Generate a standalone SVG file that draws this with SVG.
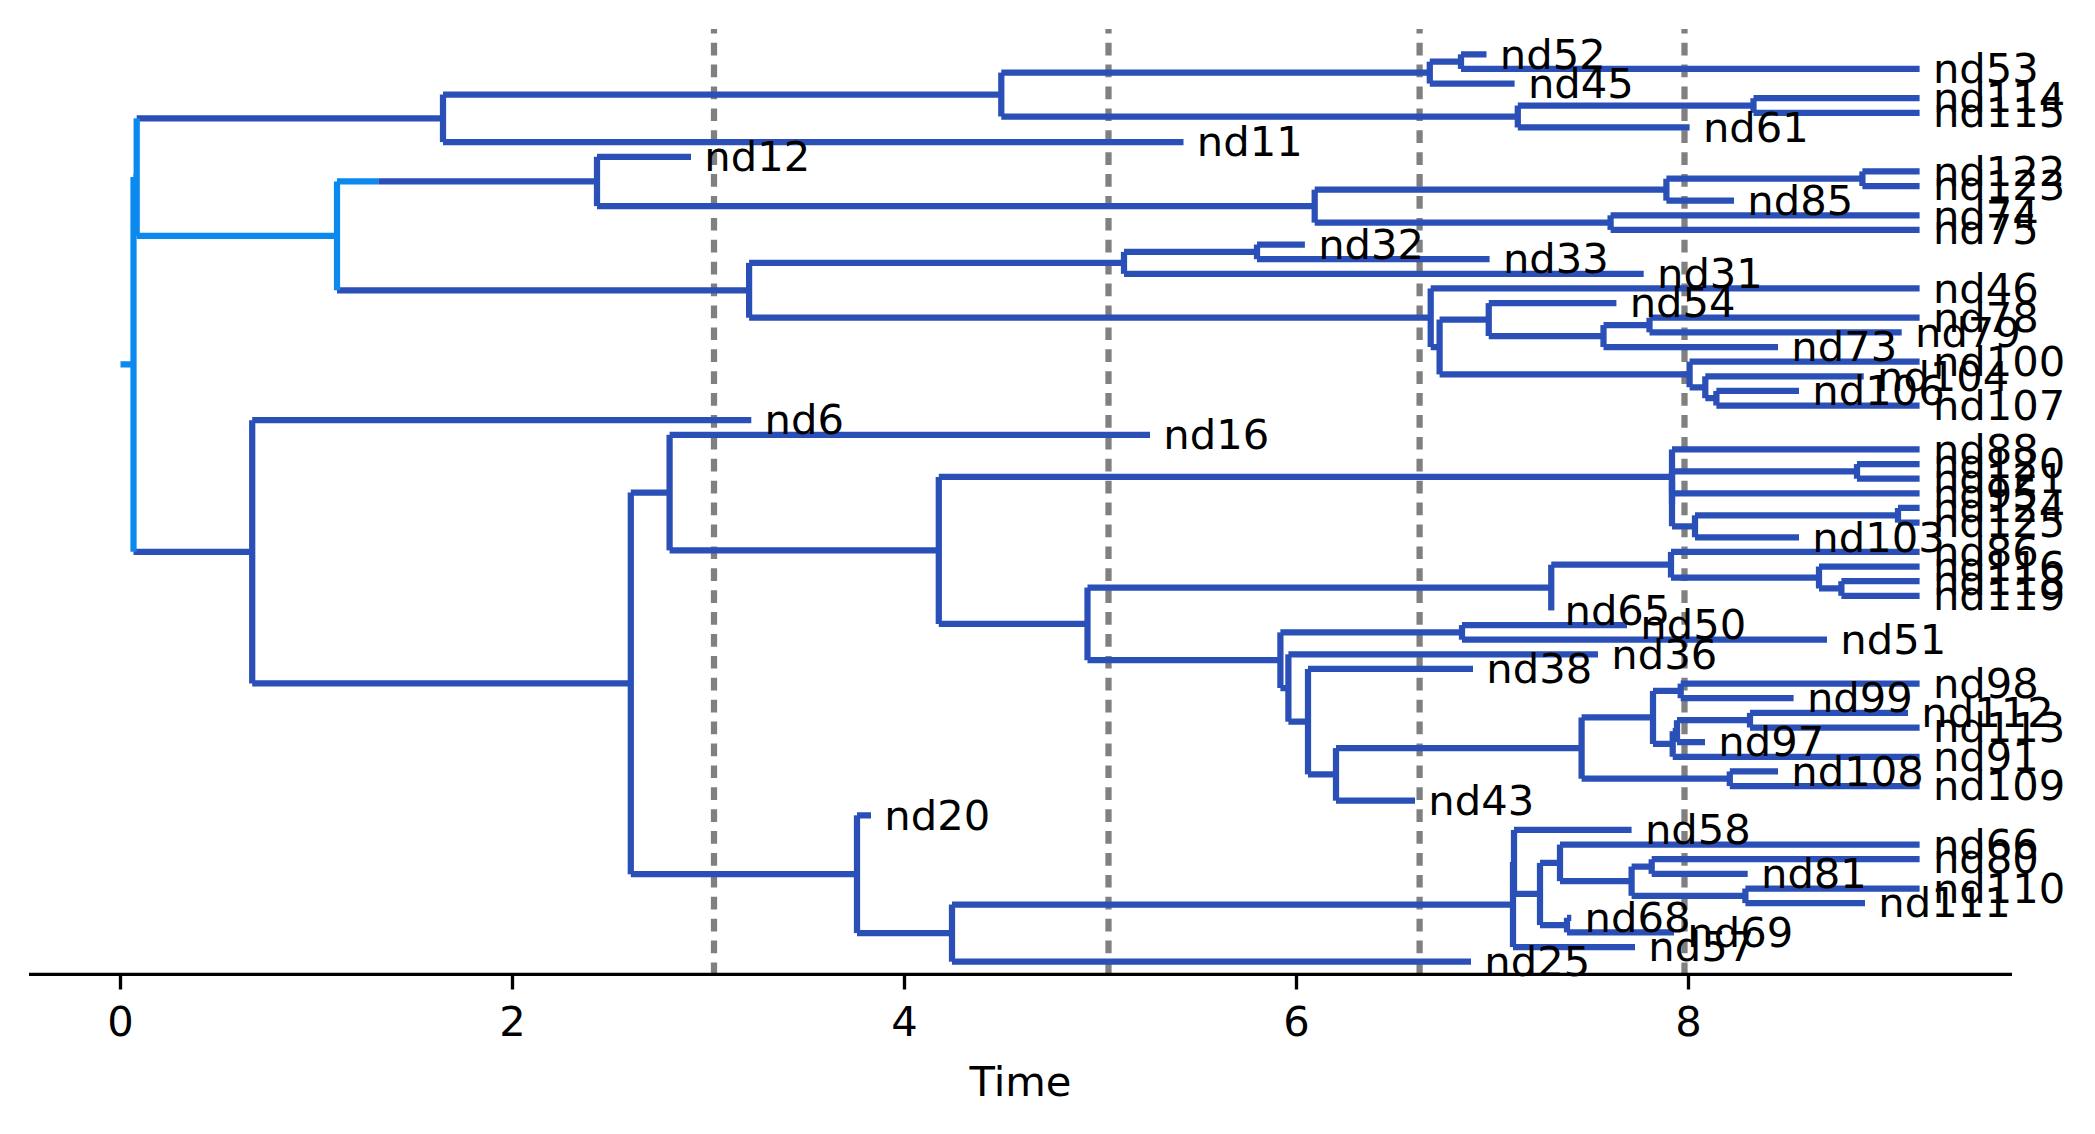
<svg xmlns="http://www.w3.org/2000/svg" width="2095" height="1134" viewBox="0 0 2095 1134">
<style>
.d{stroke:#2A50B8;stroke-width:6.25;fill:none;stroke-linecap:butt}
.l{stroke:#0B89EE;stroke-width:6.25;fill:none;stroke-linecap:butt}
.g{stroke:#808080;stroke-width:6.25;fill:none;stroke-dasharray:12.7 9.2;stroke-dashoffset:8.2}
.t{font-family:"DejaVu Sans",sans-serif;font-size:41.67px;fill:#000}
.k{stroke:#000;stroke-width:3.33;fill:none}
.m{text-anchor:middle}
</style>
<rect width="2095" height="1134" fill="#fff"/>
<g id="guides">
<path class="g" d="M714 29V974.3"/>
<path class="g" d="M1108.5 29V974.3"/>
<path class="g" d="M1419.6 29V974.3"/>
<path class="g" d="M1684.5 29V974.3"/>
</g>
<g id="axis">
<path class="k" d="M29 974.3H2012"/>
<path class="k" d="M120.5 974.3V989.6M512.5 974.3V989.6M904.5 974.3V989.6M1296.5 974.3V989.6M1688.5 974.3V989.6"/>
<text class="t m" x="120.5" y="1036">0</text>
<text class="t m" x="512.5" y="1036">2</text>
<text class="t m" x="904.5" y="1036">4</text>
<text class="t m" x="1296.5" y="1036">6</text>
<text class="t m" x="1688.5" y="1036">8</text>
<text class="t m" x="1020.5" y="1095.5">Time</text>
</g>
<g id="connectors">
<path class="l" d="M120.5 364.45H133.5M133.5 177.1H136.7M136.7 235.87H337M337 181.45H378.3"/>
<path class="d" d="M378.3 181.45H597M133.5 551.79H252.2M136.7 118.33H443
M443 94.55H1001.3M443 142.11H1183.5M1001.3 72.6H1429.8M1001.3 116.5H1517.8
M1429.8 61.62H1461M1429.8 83.57H1514.6M1461 54.3H1486.5M1461 68.94H1919.6
M1517.8 105.53H1753.5M1517.8 127.48H1689.6M1753.5 98.21H1919.6M1753.5 112.84H1919.6
M337 290.29H749.1M597 156.75H691M597 206.14H1314.7
M1314.7 189.68H1666.4M1314.7 222.61H1610.6M1666.4 178.7H1862.4M1666.4 200.65H1734
M1862.4 171.38H1919.6M1862.4 186.02H1919.6M1610.6 215.29H1919.6M1610.6 229.92H1919.6
M749.1 262.85H1124M749.1 317.73H1430.7M1124 251.87H1257M1124 273.83H1643.7
M1257 244.56H1304.9M1257 259.19H1489.6M1430.7 288.46H1919.6M1430.7 347H1439.6
M1439.6 319.56H1488.75M1439.6 374.44H1689.6M1488.75 303.1H1616.4M1488.75 336.03H1603.5
M1603.5 325.05H1649.5M1603.5 347H1778M1649.5 317.73H1919.6M1649.5 332.37H1901.7
M1689.6 361.64H1919.6M1689.6 387.25H1705.3M1705.3 376.27H1863.7M1705.3 398.22H1716.4
M1716.4 390.91H1799M1716.4 405.54H1919.6
M252.2 420.18H751.3M252.2 683.4H630.8M630.8 492.6H669.6M630.8 874.2H857
M669.6 434.81H1150M669.6 550.39H938.8M938.8 476.89H1672M938.8 623.88H1087.5
M1672 449.45H1919.6M1672 471.4H1857M1672 493.35H1919.6M1672 526.28H1695
M1857 464.08H1919.6M1857 478.72H1919.6M1695 515.31H1898M1695 537.26H1799
M1898 507.99H1919.6M1898 522.62H1919.6
M1087.5 587.57H1551.25M1087.5 660.2H1280.4M1551.25 564.7H1671
M1671 551.89H1919.6M1671 577.51H1819M1819 566.53H1919.6M1819 588.48H1841.4
M1841.4 581.16H1919.6M1841.4 595.8H1919.6
M1280.4 632.39H1462M1280.4 688.01H1288.4M1462 625.07H1627M1462 639.7H1827
M1288.4 654.34H1598M1288.4 721.68H1308M1308 668.97H1473M1308 774.39H1336
M1336 748.09H1581.6M1336 800.69H1415M1581.6 717.45H1653M1581.6 778.74H1729.8
M1653 690.93H1680.7M1653 743.98H1672.7M1680.7 683.61H1919.6M1680.7 698.24H1793.6
M1672.7 731.17H1677M1672.7 756.78H1919.6M1677 720.2H1750M1677 742.15H1705
M1750 712.88H1908M1750 727.51H1919.6M1729.8 771.42H1778M1729.8 786.05H1919.6
M857 815.32H871M857 933.09H952M952 904.51H1513M952 961.67H1471
M1513 861.97H1514M1513 947.04H1635M1514 829.96H1631.6M1514 893.99H1540
M1540 862.89H1560M1540 925.08H1567M1560 844.59H1919.6M1560 881.18H1631.6
M1631.6 866.55H1651.7M1631.6 895.82H1745.4M1651.7 859.23H1919.6M1651.7 873.86H1747.7
M1745.4 888.5H1919.6M1745.4 903.13H1865M1567 917.77H1571.3M1567 932.4H1674"/>
</g>
<g id="root"><path class="l" d="M133.5 177.1V551.79"/></g>
<g id="nA"><path class="l" d="M136.7 118.33V235.87"/></g>
<g id="nC"><path class="l" d="M337 181.45V290.29"/></g>
<g id="nB"><path class="d" d="M443 94.55V142.11"/></g>
<g id="nD"><path class="d" d="M1001.3 72.6V116.5"/></g>
<g id="nE"><path class="d" d="M1429.8 61.62V83.57"/></g>
<g id="nG"><path class="d" d="M1461 54.3V68.94"/></g>
<g id="nF"><path class="d" d="M1517.8 105.53V127.48"/></g>
<g id="nH"><path class="d" d="M1753.5 98.21V112.84"/></g>
<g id="nI"><path class="d" d="M597 156.75V206.14"/></g>
<g id="nK"><path class="d" d="M1314.7 189.68V222.61"/></g>
<g id="nL"><path class="d" d="M1666.4 178.7V200.65"/></g>
<g id="nN"><path class="d" d="M1862.4 171.38V186.02"/></g>
<g id="nM"><path class="d" d="M1610.6 215.29V229.92"/></g>
<g id="nJ"><path class="d" d="M749.1 262.85V317.73"/></g>
<g id="nO"><path class="d" d="M1124 251.87V273.83"/></g>
<g id="nQ"><path class="d" d="M1257 244.56V259.19"/></g>
<g id="nP"><path class="d" d="M1430.7 288.46V347"/></g>
<g id="nR"><path class="d" d="M1439.6 319.56V374.44"/></g>
<g id="nS"><path class="d" d="M1488.75 303.1V336.03"/></g>
<g id="nU"><path class="d" d="M1603.5 325.05V347"/></g>
<g id="nV"><path class="d" d="M1649.5 317.73V332.37"/></g>
<g id="nT"><path class="d" d="M1689.6 361.64V387.25"/></g>
<g id="nW"><path class="d" d="M1705.3 376.27V398.22"/></g>
<g id="nX"><path class="d" d="M1716.4 390.91V405.54"/></g>
<g id="nY"><path class="d" d="M252.2 420.18V683.4"/></g>
<g id="nZ"><path class="d" d="M630.8 492.6V874.2"/></g>
<g id="nAA"><path class="d" d="M669.6 434.81V550.39"/></g>
<g id="nAC"><path class="d" d="M938.8 476.89V623.88"/></g>
<g id="nAD"><path class="d" d="M1672 449.45V504.33"/></g>
<g id="nAD2"><path class="d" d="M1672 482.38V526.28"/></g>
<g id="nAD3"><path class="d" d="M1672 471.4V493.35"/></g>
<g id="nC120"><path class="d" d="M1857 464.08V478.72"/></g>
<g id="nAF"><path class="d" d="M1695 515.31V537.26"/></g>
<g id="nC124"><path class="d" d="M1898 507.99V522.62"/></g>
<g id="nAE"><path class="d" d="M1087.5 587.57V660.2"/></g>
<g id="nAG"><path class="d" d="M1551.25 564.7V610.43"/></g>
<g id="nAI"><path class="d" d="M1671 551.89V577.51"/></g>
<g id="nAJ"><path class="d" d="M1819 566.53V588.48"/></g>
<g id="nAK"><path class="d" d="M1841.4 581.16V595.8"/></g>
<g id="nAH"><path class="d" d="M1280.4 632.39V688.01"/></g>
<g id="nAL"><path class="d" d="M1462 625.07V639.7"/></g>
<g id="nAM"><path class="d" d="M1288.4 654.34V721.68"/></g>
<g id="nAN"><path class="d" d="M1308 668.97V774.39"/></g>
<g id="nAO"><path class="d" d="M1336 748.09V800.69"/></g>
<g id="nAP"><path class="d" d="M1581.6 717.45V778.74"/></g>
<g id="nAQ"><path class="d" d="M1653 690.93V743.98"/></g>
<g id="nAS"><path class="d" d="M1680.7 683.61V698.24"/></g>
<g id="nAT"><path class="d" d="M1672.7 731.17V756.78"/></g>
<g id="nAT2"><path class="d" d="M1677 720.2V742.15"/></g>
<g id="nAU"><path class="d" d="M1750 712.88V727.51"/></g>
<g id="nAR"><path class="d" d="M1729.8 771.42V786.05"/></g>
<g id="nAB"><path class="d" d="M857 815.32V933.09"/></g>
<g id="nAV"><path class="d" d="M952 904.51V961.67"/></g>
<g id="nAW"><path class="d" d="M1513 861.97V947.04"/></g>
<g id="nAW2"><path class="d" d="M1514 829.96V893.99"/></g>
<g id="nAX"><path class="d" d="M1540 862.89V925.08"/></g>
<g id="nAY"><path class="d" d="M1560 844.59V881.18"/></g>
<g id="nBA"><path class="d" d="M1631.6 866.55V895.82"/></g>
<g id="nBB"><path class="d" d="M1651.7 859.23V873.86"/></g>
<g id="nBC"><path class="d" d="M1745.4 888.5V903.13"/></g>
<g id="nAZ"><path class="d" d="M1567 917.77V932.4"/></g>
<g id="nd52"><text class="t" x="1499.8" y="68.5">nd52</text></g>
<g id="nd53"><text class="t" x="1932.9" y="83.1">nd53</text></g>
<g id="nd45"><text class="t" x="1527.9" y="97.8">nd45</text></g>
<g id="nd114"><text class="t" x="1932.9" y="112.4">nd114</text></g>
<g id="nd115"><text class="t" x="1932.9" y="127">nd115</text></g>
<g id="nd61"><text class="t" x="1702.9" y="141.7">nd61</text></g>
<g id="nd11"><text class="t" x="1196.8" y="156.3">nd11</text></g>
<g id="nd12"><text class="t" x="704.3" y="171">nd12</text></g>
<g id="nd122"><text class="t" x="1932.9" y="185.6">nd122</text></g>
<g id="nd123"><text class="t" x="1932.9" y="200.2">nd123</text></g>
<g id="nd85"><text class="t" x="1747.3" y="214.9">nd85</text></g>
<g id="nd74"><text class="t" x="1932.9" y="229.5">nd74</text></g>
<g id="nd75"><text class="t" x="1932.9" y="244.1">nd75</text></g>
<g id="nd32"><text class="t" x="1318.2" y="258.8">nd32</text></g>
<g id="nd33"><text class="t" x="1502.9" y="273.4">nd33</text></g>
<g id="nd31"><text class="t" x="1657" y="288">nd31</text></g>
<g id="nd46"><text class="t" x="1932.9" y="302.7">nd46</text></g>
<g id="nd54"><text class="t" x="1629.7" y="317.3">nd54</text></g>
<g id="nd78"><text class="t" x="1932.9" y="331.9">nd78</text></g>
<g id="nd79"><text class="t" x="1915" y="346.6">nd79</text></g>
<g id="nd73"><text class="t" x="1791.3" y="361.2">nd73</text></g>
<g id="nd100"><text class="t" x="1932.9" y="375.8">nd100</text></g>
<g id="nd104"><text class="t" x="1877" y="390.5">nd104</text></g>
<g id="nd106"><text class="t" x="1812.3" y="405.1">nd106</text></g>
<g id="nd107"><text class="t" x="1932.9" y="419.7">nd107</text></g>
<g id="nd6"><text class="t" x="764.6" y="434.4">nd6</text></g>
<g id="nd16"><text class="t" x="1163.3" y="449">nd16</text></g>
<g id="nd88"><text class="t" x="1932.9" y="463.7">nd88</text></g>
<g id="nd120"><text class="t" x="1932.9" y="478.3">nd120</text></g>
<g id="nd121"><text class="t" x="1932.9" y="492.9">nd121</text></g>
<g id="nd95"><text class="t" x="1932.9" y="507.6">nd95</text></g>
<g id="nd124"><text class="t" x="1932.9" y="522.2">nd124</text></g>
<g id="nd125"><text class="t" x="1932.9" y="536.8">nd125</text></g>
<g id="nd103"><text class="t" x="1812.3" y="551.5">nd103</text></g>
<g id="nd86"><text class="t" x="1932.9" y="566.1">nd86</text></g>
<g id="nd116"><text class="t" x="1932.9" y="580.7">nd116</text></g>
<g id="nd118"><text class="t" x="1932.9" y="595.4">nd118</text></g>
<g id="nd119"><text class="t" x="1932.9" y="610">nd119</text></g>
<g id="nd65"><text class="t" x="1564.5" y="624.6">nd65</text></g>
<g id="nd50"><text class="t" x="1640.3" y="639.3">nd50</text></g>
<g id="nd51"><text class="t" x="1840.3" y="653.9">nd51</text></g>
<g id="nd36"><text class="t" x="1611.3" y="668.5">nd36</text></g>
<g id="nd38"><text class="t" x="1486.3" y="683.2">nd38</text></g>
<g id="nd98"><text class="t" x="1932.9" y="697.8">nd98</text></g>
<g id="nd99"><text class="t" x="1806.9" y="712.4">nd99</text></g>
<g id="nd112"><text class="t" x="1921.3" y="727.1">nd112</text></g>
<g id="nd113"><text class="t" x="1932.9" y="741.7">nd113</text></g>
<g id="nd97"><text class="t" x="1718.3" y="756.4">nd97</text></g>
<g id="nd91"><text class="t" x="1932.9" y="771">nd91</text></g>
<g id="nd108"><text class="t" x="1791.3" y="785.6">nd108</text></g>
<g id="nd109"><text class="t" x="1932.9" y="800.3">nd109</text></g>
<g id="nd43"><text class="t" x="1428.3" y="814.9">nd43</text></g>
<g id="nd20"><text class="t" x="884.3" y="829.5">nd20</text></g>
<g id="nd58"><text class="t" x="1644.9" y="844.2">nd58</text></g>
<g id="nd66"><text class="t" x="1932.9" y="858.8">nd66</text></g>
<g id="nd80"><text class="t" x="1932.9" y="873.4">nd80</text></g>
<g id="nd81"><text class="t" x="1761" y="888.1">nd81</text></g>
<g id="nd110"><text class="t" x="1932.9" y="902.7">nd110</text></g>
<g id="nd111"><text class="t" x="1878.3" y="917.3">nd111</text></g>
<g id="nd68"><text class="t" x="1584.6" y="932">nd68</text></g>
<g id="nd69"><text class="t" x="1687.3" y="946.6">nd69</text></g>
<g id="nd57"><text class="t" x="1648.3" y="961.2">nd57</text></g>
<g id="nd25"><text class="t" x="1484.3" y="975.9">nd25</text></g>
</svg>
